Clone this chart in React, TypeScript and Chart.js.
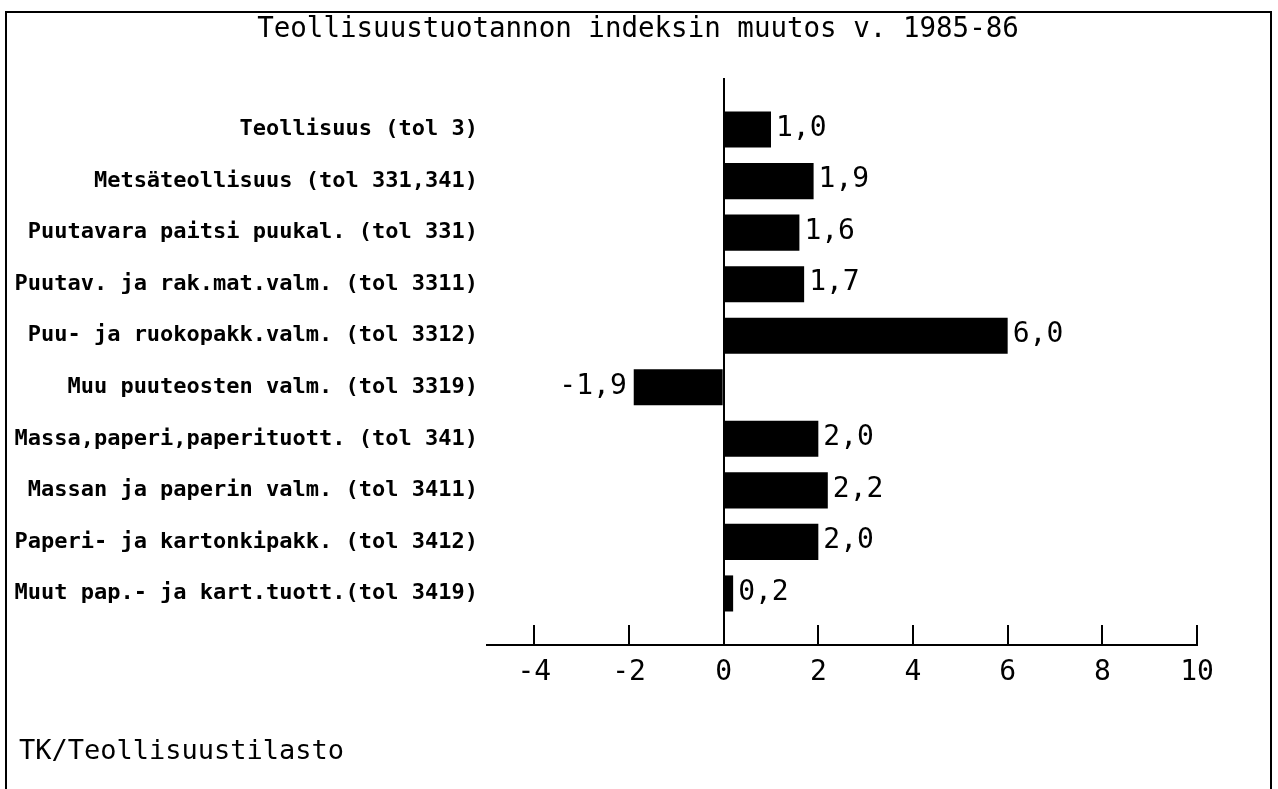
import React, { useEffect, useRef } from "react";
import { Chart, registerables } from "chart.js";

Chart.register(...registerables);

const TITLE = "Teollisuustuotannon indeksin muutos v. 1985-86";
const SOURCE = "TK/Teollisuustilasto";

const CATEGORIES = [
  "Teollisuus (tol 3)",
  "Metsäteollisuus (tol 331,341)",
  "Puutavara paitsi puukal. (tol 331)",
  "Puutav. ja rak.mat.valm. (tol 3311)",
  "Puu- ja ruokopakk.valm. (tol 3312)",
  "Muu puuteosten valm. (tol 3319)",
  "Massa,paperi,paperituott. (tol 341)",
  "Massan ja paperin valm. (tol 3411)",
  "Paperi- ja kartonkipakk. (tol 3412)",
  "Muut pap.- ja kart.tuott.(tol 3419)",
];

const VALUES = [1.0, 1.9, 1.6, 1.7, 6.0, -1.9, 2.0, 2.2, 2.0, 0.2];

const X_TICKS = [-4, -2, 0, 2, 4, 6, 8, 10];
const X_MIN = -5;
const X_MAX = 10;

const MONO = '"DejaVu Sans Mono", "Liberation Mono", monospace';

const fmt = (v: number) => v.toFixed(1).replace(".", ",");

const valueLabels = {
  id: "valueLabels",
  afterDatasetsDraw(chart: any) {
    const ctx = chart.ctx;
    const meta = chart.getDatasetMeta(0);
    const data = chart.data.datasets[0].data as (number | null)[];
    ctx.save();
    ctx.font = `28px ${MONO}`;
    ctx.fillStyle = "#000";
    ctx.textBaseline = "middle";
    meta.data.forEach((bar: any, i: number) => {
      const v = data[i];
      if (v === null || v === undefined) return;
      if (v >= 0) {
        ctx.textAlign = "left";
        ctx.fillText(fmt(v), bar.x + 5, bar.y - 1);
      } else {
        ctx.textAlign = "right";
        ctx.fillText(fmt(v), bar.x - 7, bar.y - 1);
      }
    });
    ctx.restore();
  },
};

const headerFooter = {
  id: "headerFooter",
  afterDraw(chart: any) {
    const ctx = chart.ctx;
    ctx.save();
    ctx.fillStyle = "#000";
    ctx.textBaseline = "middle";
    ctx.font = `27.5px ${MONO}`;
    ctx.textAlign = "center";
    ctx.fillText(TITLE, 638, 30);
    ctx.font = `27px ${MONO}`;
    ctx.textAlign = "left";
    ctx.fillText(SOURCE, 19, 752);
    ctx.restore();
  },
};

export default function App() {
  const canvasRef = useRef<HTMLCanvasElement | null>(null);

  useEffect(() => {
    if (!canvasRef.current) return;
    const labels = ["", ...CATEGORIES, ""];
    const data = [null, ...VALUES, null];
    const chart = new Chart(canvasRef.current, {
      type: "bar",
      data: {
        labels,
        datasets: [
          {
            data,
            backgroundColor: "#000",
            borderWidth: 0,
            barPercentage: 0.7,
            categoryPercentage: 1,
          },
        ],
      },
      plugins: [valueLabels, headerFooter],
      options: {
        indexAxis: "y",
        responsive: false,
        animation: false,
        devicePixelRatio: 1,
        layout: { padding: { left: 0, right: 81, top: 78, bottom: 84 } },
        plugins: {
          legend: { display: false },
          tooltip: { enabled: false },
          title: { display: false },
        },
        scales: {
          x: {
            type: "linear",
            min: X_MIN,
            max: X_MAX,
            afterBuildTicks: (scale: any) => {
              scale.ticks = X_TICKS.map((v) => ({ value: v }));
            },
            afterFit: (scale: any) => {
              scale.height = 60;
            },
            ticks: {
              color: "#000",
              font: { family: MONO, size: 28 },
              padding: 31,
              maxRotation: 0,
              autoSkip: false,
              callback: (v: any) => String(v),
            },
            grid: {
              drawOnChartArea: true,
              color: (c: any) => (c.tick && c.tick.value === 0 ? "#000" : "rgba(0,0,0,0)"),
              lineWidth: 2,
              drawTicks: true,
              tickLength: -20,
              tickColor: "#000",
              tickWidth: 2,
            },
            border: { display: true, color: "#000", width: 2 },
          },
          y: {
            type: "category",
            offset: false,
            afterFit: (scale: any) => {
              scale.width = 487;
            },
            ticks: {
              color: "#000",
              font: { family: MONO, size: 22, weight: "bold" },
              padding: 9,
              autoSkip: false,
            },
            grid: { display: false, drawTicks: false },
            border: { display: false },
          },
        },
      },
    });
    return () => chart.destroy();
  }, []);

  return (
    <div style={{ position: "absolute", left: 0, top: 0, width: 1278, height: 789, overflow: "hidden", background: "#fff" }}>
      <canvas
        ref={canvasRef}
        width={1278}
        height={789}
        style={{ position: "absolute", left: 0, top: 0, width: 1278, height: 789, display: "block" }}
      />
      <div
        style={{
          position: "absolute",
          left: 5,
          top: 11,
          width: 1267,
          height: 820,
          boxSizing: "border-box",
          borderTop: "2px solid #000",
          borderLeft: "2px solid #000",
          borderRight: "2px solid #000",
          pointerEvents: "none",
        }}
      />
    </div>
  );
}
